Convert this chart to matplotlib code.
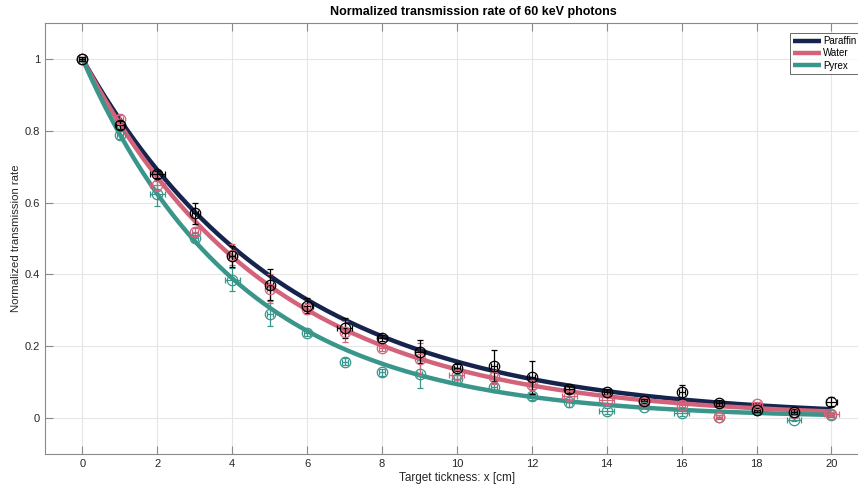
import numpy as np
import matplotlib
matplotlib.use("Agg")
import matplotlib.pyplot as plt

plt.rcParams['font.family'] = ['Liberation Sans', 'DejaVu Sans']

# ---- data ----
thickness = list(range(0, 21))

paraffin_y = [1.0, 0.816, 0.679, 0.570, 0.450, 0.371, 0.313, 0.252, 0.224, 0.185, 0.140,
              0.146, 0.113, 0.080, 0.072, 0.047, 0.072, 0.043, 0.022, 0.018, 0.046]
paraffin_yerr = [0.005, 0.01, 0.01, 0.03, 0.03, 0.043, 0.02, 0.028, 0.008, 0.033, 0.01,
                 0.044, 0.045, 0.01, 0.008, 0.006, 0.02, 0.008, 0.006, 0.008, 0.012]
paraffin_xerr = [0.08, 0.1, 0.2, 0.08, 0.08, 0.08, 0.15, 0.2, 0.12, 0.12, 0.08,
                 0.08, 0.08, 0.12, 0.08, 0.08, 0.08, 0.08, 0.08, 0.08, 0.15]

water_y = [1.0, 0.834, 0.648, 0.518, 0.455, 0.360, 0.305, 0.241, 0.195, 0.165, 0.120,
           0.115, 0.092, 0.061, 0.050, 0.045, 0.036, 0.004, 0.039, 0.015, 0.011]
water_yerr = [0.005, 0.01, 0.015, 0.01, 0.03, 0.04, 0.015, 0.03, 0.008, 0.045, 0.01,
              0.02, 0.01, 0.01, 0.01, 0.005, 0.006, 0.005, 0.006, 0.005, 0.005]
water_xerr = [0.08, 0.08, 0.2, 0.08, 0.08, 0.08, 0.08, 0.08, 0.08, 0.08, 0.2,
              0.08, 0.08, 0.2, 0.2, 0.08, 0.08, 0.08, 0.08, 0.08, 0.2]

pyrex_y = [1.0, 0.788, 0.625, 0.500, 0.385, 0.290, 0.237, 0.157, 0.127, 0.123, 0.109,
           0.087, 0.061, 0.046, 0.020, 0.032, 0.015, 0.003, 0.022, -0.004, 0.008]
pyrex_yerr = [0.005, 0.01, 0.035, 0.01, 0.032, 0.035, 0.008, 0.01, 0.01, 0.04, 0.01,
              0.01, 0.01, 0.015, 0.008, 0.005, 0.008, 0.005, 0.006, 0.005, 0.005]
pyrex_xerr = [0.08, 0.08, 0.2, 0.08, 0.2, 0.08, 0.08, 0.08, 0.08, 0.08, 0.08,
              0.08, 0.08, 0.08, 0.2, 0.08, 0.2, 0.08, 0.08, 0.2, 0.08]

# fitted attenuation coefficients (1/cm) of the exponential fits
fit_mu = {'Paraffin': 0.185, 'Water': 0.200, 'Pyrex': 0.236}

series_names = ['Paraffin', 'Water', 'Pyrex']
x_ticks = [0, 2, 4, 6, 8, 10, 12, 14, 16, 18, 20]
y_ticks = [0, 0.2, 0.4, 0.6, 0.8, 1.0]
y_ticklabels = ['0', '0.2', '0.4', '0.6', '0.8', '1']

# ---- styles ----
line_colors = {'Paraffin': '#16244d', 'Water': '#d3637b', 'Pyrex': '#3a968a'}
marker_colors = {'Paraffin': '#000000', 'Water': '#d3637b', 'Pyrex': '#3a968a'}

x_lo, x_hi = -1, 21
px_per_unit = 37.45
ax_w_px = (x_hi - x_lo) * px_per_unit
fig = plt.figure(figsize=(8.58, 4.86), dpi=100)
ax = fig.add_axes([45/858, 1-454/486, ax_w_px/858, (454-23)/486])

xf = np.linspace(0, 20, 200)
for name in series_names:
    ax.plot(xf, np.exp(-fit_mu[name]*xf), color=line_colors[name], lw=3.2,
            label=name, zorder=2, solid_capstyle='butt')

data = {
    'Pyrex': (pyrex_y, pyrex_xerr, pyrex_yerr),
    'Water': (water_y, water_xerr, water_yerr),
    'Paraffin': (paraffin_y, paraffin_xerr, paraffin_yerr),
}
for name in ['Pyrex', 'Water', 'Paraffin']:
    y, xe, ye = data[name]
    ax.errorbar(thickness, y, yerr=ye, xerr=xe, fmt='o', mfc='none',
                mec=marker_colors[name], ecolor=marker_colors[name],
                ms=7.5, mew=0.9, elinewidth=0.9, capsize=2.5, capthick=0.9,
                zorder=3)

ax.set_xlim(x_lo, x_hi)
ax.set_ylim(-0.1, 1.1)
ax.set_xticks(x_ticks)
ax.set_yticks(y_ticks)
ax.set_yticklabels(y_ticklabels)
ax.grid(True, color='#e6e6e6', lw=0.8, zorder=0)
ax.set_axisbelow(True)
for s in ax.spines.values():
    s.set_color('#8a8a8a')
    s.set_linewidth(0.8)
ax.tick_params(direction='in', length=6, width=0.8, color='#8a8a8a',
               labelsize=8, labelcolor='#262626', top=True, right=True, pad=3.5)

ax.set_title('Normalized transmission rate of 60 keV photons', fontsize=9,
             fontweight='bold', pad=6, x=(473-45)/ax_w_px)
ax.set_xlabel('Target tickness: x [cm]', fontsize=8.5, color='#262626', labelpad=2)
ax.set_ylabel('Normalized transmission rate', fontsize=8.2, color='#262626', labelpad=3)

leg = ax.legend(loc='upper left', bbox_to_anchor=((790-45)/ax_w_px, 1-(33-23)/431),
                fontsize=7, frameon=True, fancybox=False, borderpad=0.3,
                handlelength=2.9, handletextpad=0.2, labelspacing=0.25,
                borderaxespad=0)
leg.get_frame().set_edgecolor('#262626')
leg.get_frame().set_linewidth(0.6)

fig.savefig('out.png', dpi=100)
